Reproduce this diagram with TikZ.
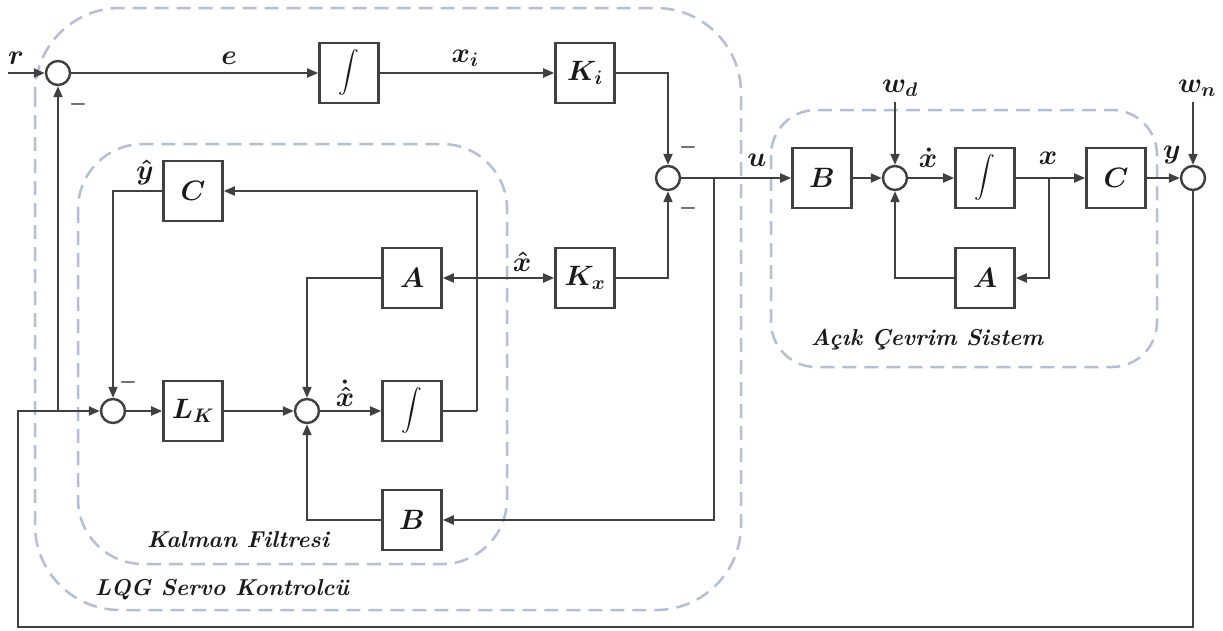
\RequirePackage{fix-cm}
\documentclass[tikz,border=0pt]{standalone}
\usepackage{exscale}
\usetikzlibrary{arrows.meta}
\definecolor{linec}{HTML}{404040}
\definecolor{dashc}{HTML}{B3BFD6}
\definecolor{textc}{HTML}{1A1A1A}
\newcommand{\mfont}{\fontsize{28}{32}\selectfont\boldmath}
\newcommand{\gfont}{\fontsize{23}{27}\selectfont\bfseries\itshape}
\newcommand{\intsym}{{\fontsize{22}{22}\selectfont$\displaystyle\int$}}
\tikzset{
  blk/.style={draw=linec, line width=2.6pt, minimum width=59pt, minimum height=60pt, inner sep=0pt, font=\mfont, text=textc},
  sumc/.style={circle, draw=linec, line width=2.4pt, minimum size=24pt, inner sep=0pt},
  conn/.style={draw=linec, line width=2pt, -{Triangle[length=11pt,width=9pt]}},
  dconn/.style={draw=linec, line width=2pt, {Triangle[length=11pt,width=9pt]}-{Triangle[length=11pt,width=9pt]}},
  wire/.style={draw=linec, line width=2pt},
  grp/.style={draw=dashc, line width=2.5pt, dash pattern=on 14pt off 8pt},
  lbl/.style={font=\mfont, text=textc, inner sep=0pt},
  mns/.style={font=\fontsize{20}{20}\selectfont\boldmath, text=textc, inner sep=0pt},
  glbl/.style={font=\gfont, text=textc, inner sep=0pt},
}
\begin{document}
\begin{tikzpicture}[x=1pt,y=-1pt]
\useasboundingbox[fill=white] (0,0) rectangle (1223,630);
% groups
\draw[grp, rounded corners=85pt] (35,8) rectangle (741,610);
\draw[grp, rounded corners=65pt] (78,144) rectangle (507,564);
\draw[grp, rounded corners=45pt] (771,110) rectangle (1157,367);
% nodes
\node[sumc] (sum1) at (58,73) {};
\node[blk] (int1) at (349,73) {\intsym};
\node[blk] (Ki) at (585,73) {$K_i$};
\node[sumc] (sum2) at (668,178) {};
\node[blk] (B2) at (822,178) {$B$};
\node[sumc] (sum3) at (895,178) {};
\node[blk] (int2) at (985,178) {\intsym};
\node[blk] (A2) at (985,278) {$A$};
\node[blk] (C2) at (1116,178) {$C$};
\node[sumc] (sum4) at (1193,178) {};
\node[blk] (C1) at (193,191) {$C$};
\node[blk] (A1) at (412,278) {$A$};
\node[blk] (Kx) at (585,278) {$K_x$};
\node[sumc] (sum5) at (113,411) {};
\node[blk] (LK) at (193,411) {$L_K$};
\node[sumc] (sum6) at (307,411) {};
\node[blk] (int3) at (412,411) {\intsym};
\node[blk] (B1) at (412,520) {$B$};
% coordinates
\coordinate (rin) at (8,73);
\coordinate (wdin) at (895,102);
\coordinate (wnin) at (1193,102);
\coordinate (ju) at (714,178);
\coordinate (jx) at (1049,178);
\coordinate (jfb) at (58,411);
\coordinate (fbl) at (18,627);
\coordinate (j3) at (477,411);
% connectors
\draw[conn] (rin) -- (sum1);
\draw[conn] (sum1) -- (int1);
\draw[conn] (int1) -- (Ki);
\draw[conn] (Ki.east) -| (sum2);
\draw[conn] (Kx.east) -| (sum2);
\draw[conn] (sum2) -- (B2);
\draw[conn] (ju) |- (B1);
\draw[conn] (B2) -- (sum3);
\draw[conn] (wdin) -- (sum3);
\draw[conn] (sum3) -- (int2);
\draw[conn] (int2) -- (C2);
\draw[conn] (jx) |- (A2);
\draw[conn] (A2) -| (sum3);
\draw[conn] (C2) -- (sum4);
\draw[conn] (wnin) -- (sum4);
\draw[conn] (sum4) |- (fbl) |- (sum5);
\draw[conn] (jfb) -- (sum1);
\draw[conn] (sum5) -- (LK);
\draw[conn] (LK) -- (sum6);
\draw[conn] (sum6) -- (int3);
\draw[wire] (int3) -- (j3);
\draw[conn] (j3) |- (C1);
\draw[conn] (C1.west) -| (sum5);
\draw[conn] (A1) -| (sum6);
\draw[conn] (B1) -| (sum6);
\draw[dconn] (A1) -- (Kx);
% signal labels
\node[lbl] (lr) at (16,58) {$r$};
\node[lbl] (le) at (229,58) {$e$};
\node[lbl] (lxi) at (465,58) {$x_i$};
\node[lbl] (lu) at (757,160) {$u$};
\node[lbl] (lxd) at (928,158) {$\dot{x}$};
\node[lbl] (lx) at (1048,158) {$x$};
\node[lbl] (ly) at (1172,155) {$y$};
\node[lbl] (lwd) at (900,88) {$w_d$};
\node[lbl] (lwn) at (1197,88) {$w_n$};
\node[lbl] (lyh) at (145,172) {$\hat{y}$};
\node[lbl] (lxh) at (522,262) {$\hat{x}$};
\node[lbl] (lxhd) at (345,393) {$\dot{\hat{x}}$};
% minus signs
\node[mns] (m1) at (78,104) {$-$};
\node[mns] (m2) at (688,147) {$-$};
\node[mns] (m3) at (688,208) {$-$};
\node[mns] (m4) at (128,382) {$-$};
% group labels
\node[glbl] (gk) at (238,540) {Kalman Filtresi};
\node[glbl] (gl) at (222,590) {LQG Servo Kontrolcü};
\node[glbl] (ga) at (927,340) {Açık Çevrim Sistem};
\end{tikzpicture}
\end{document}
